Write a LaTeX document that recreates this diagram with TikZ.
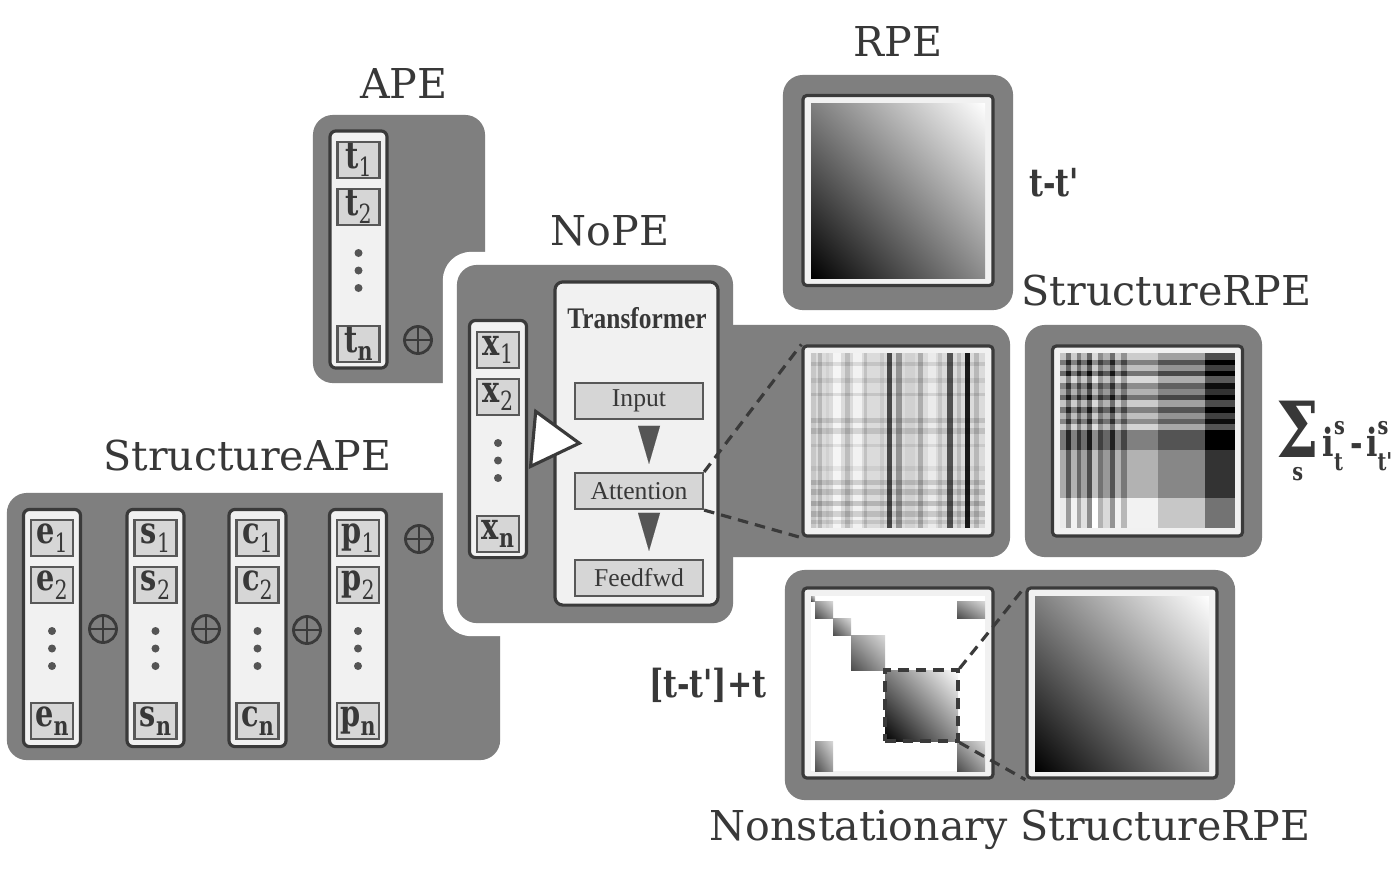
\documentclass[tikz,border=0pt]{standalone}
\usepackage{fontspec}
\setmainfont{DejaVu Serif}
\newfontfamily\boxfont{Liberation Serif}
\newfontfamily\narrowboxfont[FakeStretch=0.85]{Liberation Serif}
\newfontfamily\narrowfont[FakeStretch=0.78]{DejaVu Serif}
\usetikzlibrary{positioning, arrows.meta, calc, shadings}

\definecolor{panelgray}{HTML}{7F7F7F}
\definecolor{textgray}{HTML}{383838}
\definecolor{edgegray}{HTML}{3A3A3A}
\definecolor{lightfill}{HTML}{F1F1F1}
\definecolor{tokenfill}{HTML}{D6D6D6}
\definecolor{markgray}{HTML}{555555}

\newcommand{\tok}[2]{{\bfseries #1}\raisebox{-0.45ex}{\fontsize{7.5}{8}\selectfont #2}}
\newcommand{\smallidx}[1]{{\fontsize{7}{7}\selectfont #1}}
\newcommand{\bigsigma}{\fontsize{22}{22}\selectfont Σ}
\newcommand{\structsum}{\narrowfont\bfseries\raisebox{-1.2ex}{\shortstack{\bigsigma\\\smallidx{s}}}\hspace{1pt}i\rlap{\raisebox{1.1ex}{\smallidx{s}}}\raisebox{-0.7ex}{\smallidx{t}}\hspace{2pt}-\hspace{1pt}i\rlap{\raisebox{1.1ex}{\smallidx{s}}}\raisebox{-0.7ex}{\smallidx{t'}}}

\begin{document}
\begin{tikzpicture}[x=0.01cm, y=-0.01cm,
    panel/.style={rectangle, fill=panelgray, rounded corners=0.2cm, inner sep=0},
    title/.style={font=\fontsize{11.7}{14}\selectfont, text=textgray, inner sep=0},
    column/.style={rectangle, draw=edgegray, line width=0.9pt, fill=lightfill, rounded corners=0.06cm, minimum width=0.57cm, minimum height=2.37cm, inner sep=0},
    token/.style={rectangle, draw=edgegray!85, line width=0.6pt, fill=tokenfill, minimum width=0.42cm, minimum height=0.36cm, inner sep=0, text=textgray, font=\narrowfont\fontsize{10.5}{10}\selectfont},
    vdot/.style={circle, fill=markgray, inner sep=0, minimum size=0.08cm},
    oplus/.style={circle, draw=edgegray, line width=0.8pt, minimum size=0.27cm, inner sep=0,
        path picture={\draw[edgegray, line width=0.8pt] (path picture bounding box.north) -- (path picture bounding box.south) (path picture bounding box.west) -- (path picture bounding box.east);}},
    layer/.style={rectangle, draw=edgegray!85, line width=0.6pt, fill=tokenfill, minimum width=1.28cm, minimum height=0.36cm, inner sep=0, text=textgray, font=\boxfont\fontsize{7.3}{8}\selectfont},
    frame/.style={rectangle, draw=edgegray, line width=0.9pt, fill=lightfill, rounded corners=0.04cm, minimum width=1.9cm, minimum height=1.9cm, inner sep=0},
    flow/.style={-{Triangle[length=0.38cm, width=0.22cm]}, markgray, line width=0.01pt, shorten >=0.08cm, shorten <=0.08cm},
    feed/.style={-{Triangle[length=0.51cm, width=0.6cm, fill=white]}, edgegray, line width=0.9pt},
    zoomline/.style={densely dashed, edgegray, line width=0.9pt},
    ramp/.style={upper left=black!50, upper right=white, lower left=black, lower right=black!45},
    blockramp/.style={upper left=black!40, upper right=black!15, lower left=black!70, lower right=black!40},
    formula/.style={text=textgray, inner sep=0, font=\narrowfont\bfseries\fontsize{11}{13}\selectfont}
]
\fill[white] (0,0) rectangle (1400,872);
\useasboundingbox (0,0) rectangle (1400,872);

% Panels
\node[panel, minimum width=1.72cm, minimum height=2.68cm] (apepanel) at (399,249) {};
\node[panel, minimum width=4.93cm, minimum height=2.67cm] (sapepanel) at (253.5,626.5) {};
\node[panel, minimum width=2.30cm, minimum height=2.35cm] (rpepanel) at (898,192.5) {};
\node[panel, minimum width=2.37cm, minimum height=2.32cm] (srpepanel) at (1143.5,441) {};
\node[panel, minimum width=4.50cm, minimum height=2.30cm] (nspanel) at (1010,685) {};
\node[panel, fill=white, rounded corners=0.28cm, minimum width=3.02cm, minimum height=3.84cm] (nopehalo) at (594,444) {};
\node[panel, minimum width=3.10cm, minimum height=2.32cm] (attpanel) at (855,441) {};
\node[panel, minimum width=2.76cm, minimum height=3.58cm] (nopepanel) at (595,444) {};

% Titles
\node[title, above=0.15cm of apepanel, xshift=0.05cm] (apetitle) {APE};
\node[title, above=0.17cm of nopepanel, xshift=0.15cm] (nopetitle) {NoPE};
\node[title, above=0.17cm of rpepanel] (rpetitle) {RPE};
\node[title, above=0.17cm of srpepanel, xshift=0.23cm] (srpetitle) {StructureRPE};
\node[title, above=0.20cm of sapepanel, xshift=-0.06cm] (sapetitle) {StructureAPE};
\node[title, below=0.08cm of nspanel] (nstitle) {Nonstationary StructureRPE};

% APE tokens
\node[column] (apecol) at (358.5,249.5) {};
\node[token] (t1) at (358.5,160) {\tok{t}{1}};
\node[token] (t2) at (358.5,207) {\tok{t}{2}};
\node[token] (tn) at (358.5,344) {\tok{t}{\bfseries n}};
\foreach \k in {1,2,3} \node[vdot] (tdot\k) at ($(t2)+(0,28.5+17.5*\k)$) {};
\node[oplus] (apeplus) at (418,340) {};

% StructureAPE tokens
\node[column] (ecol) at (52,628) {};
\node[token] (e1) at (52,538) {\tok{e}{1}};
\node[token] (e2) at (52,585) {\tok{e}{2}};
\node[token] (en) at (52,721) {\tok{e}{\bfseries n}};
\foreach \k in {1,2,3} \node[vdot] (edot\k) at ($(e2)+(0,28.5+17.5*\k)$) {};

\node[column] (scol) at (155.5,628) {};
\node[token] (s1) at (155.5,538) {\tok{s}{1}};
\node[token] (s2) at (155.5,585) {\tok{s}{2}};
\node[token] (sn) at (155.5,721) {\tok{s}{\bfseries n}};
\foreach \k in {1,2,3} \node[vdot] (sdot\k) at ($(s2)+(0,28.5+17.5*\k)$) {};

\node[column] (ccol) at (257.5,628) {};
\node[token] (c1) at (257.5,538) {\tok{c}{1}};
\node[token] (c2) at (257.5,585) {\tok{c}{2}};
\node[token] (cn) at (257.5,721) {\tok{c}{\bfseries n}};
\foreach \k in {1,2,3} \node[vdot] (cdot\k) at ($(c2)+(0,28.5+17.5*\k)$) {};

\node[column] (pcol) at (358,628) {};
\node[token] (p1) at (358,538) {\tok{p}{1}};
\node[token] (p2) at (358,585) {\tok{p}{2}};
\node[token] (pn) at (358,721) {\tok{p}{\bfseries n}};
\foreach \k in {1,2,3} \node[vdot] (pdot\k) at ($(p2)+(0,28.5+17.5*\k)$) {};

\node[oplus] (esplus) at (103,629) {};
\node[oplus] (scplus) at (206,629) {};
\node[oplus] (cpplus) at (307,630) {};
\node[oplus] (sapeplus) at (419,539) {};

% NoPE tokens
\node[column] (xcol) at (498,439) {};
\node[token] (x1) at (498,350) {\tok{x}{1}};
\node[token] (x2) at (498,397) {\tok{x}{2}};
\node[token] (xn) at (498,534) {\tok{x}{\bfseries n}};
\foreach \k in {1,2,3} \node[vdot] (xdot\k) at ($(x2)+(0,28.5+17.5*\k)$) {};

% Transformer
\node[rectangle, draw=edgegray, line width=0.9pt, fill=lightfill, rounded corners=0.08cm, minimum width=1.63cm, minimum height=3.23cm] (tfbox) at (636.5,443.5) {};
\node[text=textgray, font=\narrowboxfont\bfseries\fontsize{8.5}{10}\selectfont] (tftitle) at (637,318) {Transformer};
\node[layer] (inp) at (639,401) {Input};
\node[layer] (att) at (639,491) {Attention};
\node[layer] (ffw) at (639,578) {Feedfwd};
\draw[flow] ([xshift=0.1cm]inp.south) -- ([xshift=0.1cm]att.north);
\draw[flow] ([xshift=0.1cm]att.south) -- ([xshift=0.1cm]ffw.north);
\draw[feed] ([xshift=0.06cm]xcol.east) -- ([xshift=0.29cm]tfbox.west);

% RPE matrix
\node[frame] (rpeimg) at (898,190.5) {};
\shade[ramp] (811,103) rectangle (985,278);
\node[formula, right=0.15cm of rpepanel, yshift=0.1cm] (rpeform) {t-t'};

% Attention matrix
\node[frame] (attimg) at (898,441) {};
\fill[black!14] (811,353) rectangle (985,528);
\foreach \xa/\w/\dk in {811/5/22, 818/4/28, 826/3/18, 833/8/4, 845/5/26, 853/9/5, 864/3/24, 870/6/14, 880/4/20, 887/5/72, 896/6/42, 905/10/18, 918/5/32, 928/8/8, 938/4/22, 947/6/68, 957/4/26, 965/5/90, 974/5/28, 980/5/14}
    \fill[black!\dk] (\xa,353) rectangle ++(\w,175);
\foreach \ya/\h/\op in {362/4/0.1, 378/5/0.08, 393/3/0.1, 418/5/0.12, 428/6/0.12, 444/3/0.08, 466/5/0.06, 480/5/0.14, 489/6/0.14, 501/5/0.18, 511/6/0.14, 520/4/0.1}
    \fill[black, opacity=\op] (811,\ya) rectangle ++(174,\h);
\draw[zoomline] (att.north east) -- (attimg.north west);
\draw[zoomline] (att.south east) -- (attimg.south west);

% StructureRPE matrix
\node[frame] (srpeimg) at (1147.5,441) {};
\node[text=textgray, inner sep=0, font=\fontsize{11}{12}\selectfont, right=0.13cm of srpepanel] (srpeform) {\structsum};
\foreach \xa/\w/\ca in {1060/6/8, 1066/5/40, 1071/6/5, 1077/4/35, 1081/6/12, 1087/5/45, 1092/6/0, 1098/5/30, 1103/7/15, 1110/5/42, 1115/6/5, 1121/6/28, 1127/31/5, 1158/47/22, 1205/30/55} {
  \foreach \ya/\h/\rb in {353/7/15, 360/5/45, 365/6/20, 371/5/50, 376/7/10, 383/6/40, 389/6/25, 395/5/50, 400/7/15, 407/6/45, 413/6/20, 419/5/40, 424/6/12, 430/20/45, 450/48/25, 498/30/0} {
    \pgfmathtruncatemacro\shadeval{min(100,\ca+\rb)}
    \fill[black!\shadeval] (\xa,\ya) rectangle ++(\w,\h);
  }
}

% Nonstationary StructureRPE
\node[frame] (nsimg) at (898,683) {};
\fill[white] (811,596) rectangle (985,771);
\foreach \xa/\ya/\xb/\yb in {811/596/815/601, 815/601/833/618, 833/618/851/635, 851/635/885/670, 957/601/985/618, 815/741/833/771, 957/741/985/771}
    \shade[blockramp] (\xa,\ya) rectangle (\xb,\yb);
\shade[ramp] (885,670) rectangle (958,741);
\node[draw=edgegray, densely dashed, line width=0.9pt, minimum width=0.73cm, minimum height=0.71cm, inner sep=0] (bigblk) at (921.5,705.5) {};
\node[frame] (nszoom) at (1122,683) {};
\shade[ramp] (1035,596) rectangle (1209,771);
\draw[zoomline] (bigblk.north east) -- (nszoom.north west);
\draw[zoomline] (bigblk.south east) -- (nszoom.south west);
\node[formula, left=0.17cm of nspanel] (nsform) {[t-t']+t};

\end{tikzpicture}
\end{document}
